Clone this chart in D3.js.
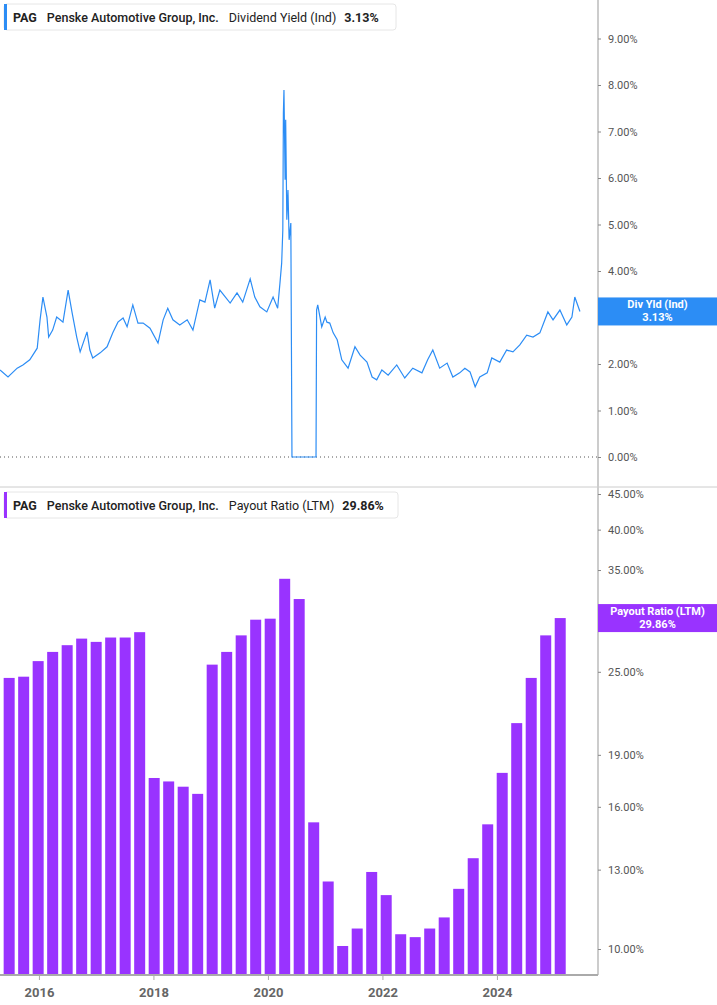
<!DOCTYPE html>
<html><head><meta charset="utf-8">
<script src="https://cdn.jsdelivr.net/npm/d3@7"></script>
<style>body{margin:0;background:#fff;font-family:Roboto,"Open Sans",sans-serif}</style>
</head><body><div id="chart"></div>
<script>
// dividend yield (%), decimal year
const yieldYears = [2015.32,2015.46,2015.62,2015.72,2015.84,2015.97,2016.02,2016.07,2016.14,2016.17,2016.24,2016.31,2016.37,2016.42,2016.51,2016.58,2016.66,2016.72,2016.84,2016.89,2016.94,2017.07,2017.19,2017.29,2017.38,2017.47,2017.54,2017.64,2017.73,2017.82,2017.94,2018.08,2018.17,2018.25,2018.34,2018.46,2018.59,2018.69,2018.81,2018.90,2018.99,2019.07,2019.16,2019.34,2019.46,2019.56,2019.69,2019.77,2019.86,2019.98,2020.09,2020.17,
  2020.21,2020.24,2020.26,2020.27,2020.28,2020.30,2020.31,2020.33,2020.35,2020.37,2020.40,2020.42,2020.84,2020.85,2020.87,2020.94,2021.00,2021.03,2021.08,2021.14,2021.21,2021.29,2021.40,2021.52,2021.61,2021.73,2021.82,2021.90,2021.99,2022.10,2022.25,2022.39,2022.53,2022.69,2022.79,2022.88,2023.00,2023.13,2023.23,2023.35,2023.44,2023.53,2023.62,2023.70,2023.83,2023.91,2024.05,2024.17,2024.28,2024.40,2024.52,2024.63,2024.75,2024.89,2024.98,2025.10,2025.22,2025.31,2025.36,2025.45];
const yieldValues = [1.87,1.72,1.91,1.98,2.09,2.34,2.95,3.44,3.01,2.58,2.73,3.01,2.95,2.90,3.59,3.10,2.58,2.26,2.69,2.30,2.13,2.24,2.37,2.67,2.90,2.99,2.80,3.27,2.88,2.88,2.77,2.45,2.95,3.20,2.95,2.84,2.95,2.73,3.38,3.33,3.81,3.20,3.59,3.31,3.53,3.33,3.83,3.44,3.23,3.12,3.44,3.20,
  3.74,4.17,4.88,7.40,7.89,5.96,7.25,5.10,5.74,4.67,5.03,0,0,3.16,3.27,2.80,3.01,2.90,2.88,2.67,2.52,2.09,1.91,2.37,2.19,2.04,1.72,1.66,1.87,1.76,1.98,1.70,1.91,1.81,2.09,2.30,1.91,2.02,1.72,1.81,1.91,1.83,1.51,1.72,1.81,2.13,2.04,2.30,2.26,2.41,2.62,2.58,2.67,3.12,2.95,3.16,2.84,3.01,3.44,3.13];
const yieldTicks = [0,1,2,3,4,5,6,7,8,9];

// payout ratio (%), quarterly
const payoutStart = 2015.48;
const payoutValues = [24.5,24.6,25.9,26.7,27.3,27.9,27.6,28.0,28.0,28.5,17.6,17.4,17.1,16.7,25.6,26.7,28.2,29.7,29.8,34.0,31.8,15.2,12.5,10.1,10.7,12.9,11.95,10.5,10.4,10.7,11.1,12.2,13.5,15.1,17.9,21.1,24.5,28.2,29.86];
const payoutTicks = [10,13,16,19,25,35,40,45];
const yearTicks = [2016,2018,2020,2022,2024];

const W = 717, H = 1005, axisX = 598;
const blue = "#2c8df5", purple = "#9933ff";
const svg = d3.select("#chart").append("svg").attr("width", W).attr("height", H);

const x = d3.scaleLinear().domain([2015.32, 2015.32 + axisX / 57.25]).range([0, axisX]);
const yTop = d3.scaleLinear().domain([0, 9]).range([457, 38.5]);
const yBot = d3.scaleLog().domain([10, 45]).range([949, 494]);

// frame lines
svg.append("line").attr("x1", axisX).attr("x2", axisX).attr("y1", 0).attr("y2", 975).attr("stroke", "#999");
svg.append("line").attr("x1", 0).attr("x2", W).attr("y1", 487).attr("y2", 487).attr("stroke", "#ccc");
svg.append("line").attr("x1", 0).attr("x2", axisX).attr("y1", 975).attr("y2", 975).attr("stroke", "#aaa").attr("stroke-width", 2);
svg.append("line").attr("x1", 0).attr("x2", axisX).attr("y1", yTop(0)).attr("y2", yTop(0))
  .attr("stroke", "#555").attr("stroke-dasharray", "1,3");

// right axes
const topAxis = d3.axisRight(yTop).tickValues(yieldTicks).tickSize(3).tickPadding(7).tickFormat(d => d.toFixed(2) + "%");
const botAxis = d3.axisRight(yBot).tickValues(payoutTicks).tickSize(3).tickPadding(7).tickFormat(d => d.toFixed(2) + "%");
[svg.append("g").attr("transform", `translate(${axisX},0)`).call(topAxis),
 svg.append("g").attr("transform", `translate(${axisX},0)`).call(botAxis)].forEach(g => {
  g.select(".domain").remove();
  g.selectAll("line").attr("stroke", "#888");
  g.selectAll("text").attr("fill", "#555").style("font-size", "11px").style("font-family", "Roboto");
});

// bottom axis
const xAxis = svg.append("g").attr("transform", "translate(0,975)")
  .call(d3.axisBottom(x).tickValues(yearTicks).tickFormat(d3.format("d")).tickSize(5).tickPadding(8));
xAxis.select(".domain").remove();
xAxis.selectAll("line").attr("stroke", "#aaa");
xAxis.selectAll("text").attr("fill", "#666").style("font-size", "13px").style("font-weight", "bold").style("font-family", "Roboto");

// bars
svg.selectAll("rect.bar").data(payoutValues).enter().append("rect")
  .attr("x", (d, i) => x(payoutStart + i * 0.2533) - 5.5)
  .attr("width", 11)
  .attr("y", d => yBot(d))
  .attr("height", d => 974 - yBot(d))
  .attr("fill", purple);

// line
const pts = yieldYears.map((t, i) => [t, yieldValues[i]]);
svg.append("path").datum(pts)
  .attr("d", d3.line().x(d => x(d[0])).y(d => yTop(d[1])))
  .attr("fill", "none").attr("stroke", blue).attr("stroke-width", 1.2);

// legends
function legend(y, color, text1, text2, w) {
  const g = svg.append("g").attr("transform", `translate(4,${y})`);
  g.append("rect").attr("width", w).attr("height", 26).attr("rx", 3).attr("fill", "#fff").attr("stroke", "#e6e6e6");
  g.append("rect").attr("width", 3).attr("height", 26).attr("fill", color);
  const t = g.append("text").attr("x", 9).attr("y", 17.5).style("font-size", "12.5px").style("font-family", "Roboto").attr("fill", "#222");
  t.append("tspan").style("font-weight", "bold").text("PAG");
  t.append("tspan").attr("dx", 10).style("font-weight", "500").text("Penske Automotive Group, Inc.");
  t.append("tspan").attr("dx", 10).text(text1);
  t.append("tspan").attr("dx", 8).style("font-weight", "bold").text(text2);
}
legend(4, blue, "Dividend Yield (Ind)", "3.13%", 392);
legend(492, purple, "Payout Ratio (LTM)", "29.86%", 394);

// right value labels
function valueLabel(v, scale, color, name, label) {
  const cy = scale(v);
  svg.append("rect").attr("x", axisX).attr("y", cy - 14).attr("width", W - axisX).attr("height", 28).attr("fill", color);
  const t = svg.append("text").attr("x", (axisX + W) / 2).attr("text-anchor", "middle")
    .attr("fill", "#fff").style("font-size", "11px").style("font-weight", "bold").style("font-family", "Roboto");
  t.append("tspan").attr("x", (axisX + W) / 2).attr("y", cy - 3).text(name);
  t.append("tspan").attr("x", (axisX + W) / 2).attr("y", cy + 10).text(label);
}
valueLabel(3.13, yTop, blue, "Div Yld (Ind)", "3.13%");
valueLabel(29.86, yBot, purple, "Payout Ratio (LTM)", "29.86%");
</script></body></html>
